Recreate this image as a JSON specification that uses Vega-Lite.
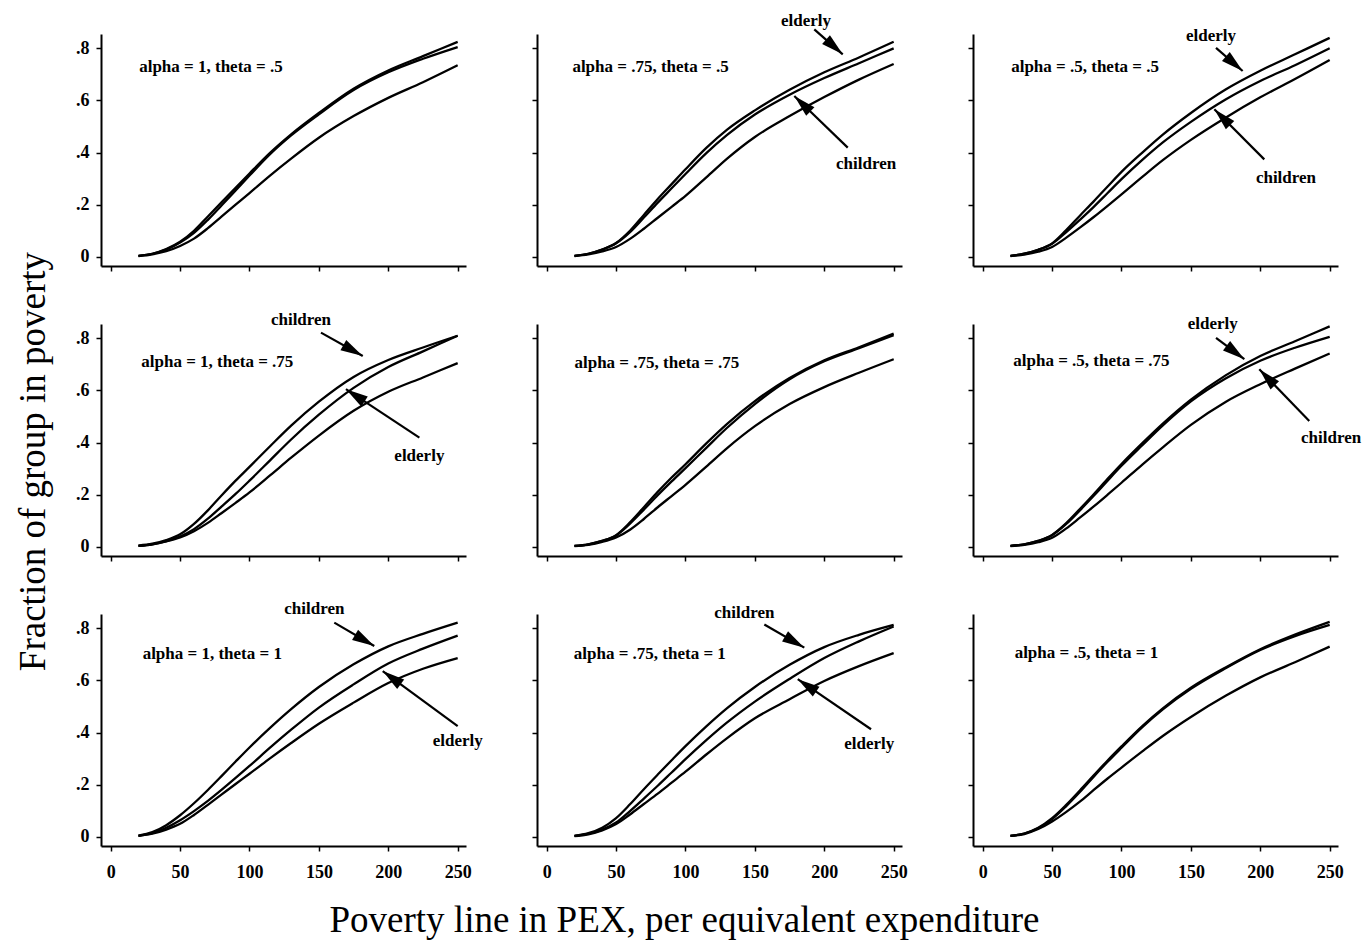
{
"$schema": "https://vega.github.io/schema/vega-lite/v6.json",
"background": "white",
"padding": {"left": 13, "top": 11, "right": 5, "bottom": 5},
"config": {
  "view": {"stroke": null},
  "axis": {"domainColor": "black", "domainWidth": 2, "tickColor": "black", "tickWidth": 1.5, "tickSize": 5, "labelFont": "Liberation Serif", "labelFontWeight": "bold", "labelFontSize": 18, "labelColor": "black", "grid": false, "titleFont": "Liberation Serif", "titleFontWeight": "normal", "titleFontSize": 37, "titleColor": "black", "labelFlush": false},
  "axisX": {"labelPadding": 12},
  "axisY": {"labelPadding": 7}
},
"datasets": {
"curves": [
{"panel":"r1c1","group":"elderly","x":20,"y":0.004},{"panel":"r1c1","group":"elderly","x":30,"y":0.012},{"panel":"r1c1","group":"elderly","x":40,"y":0.03},{"panel":"r1c1","group":"elderly","x":50,"y":0.058},{"panel":"r1c1","group":"elderly","x":60,"y":0.1},{"panel":"r1c1","group":"elderly","x":70,"y":0.155},{"panel":"r1c1","group":"elderly","x":80,"y":0.21},{"panel":"r1c1","group":"elderly","x":90,"y":0.265},{"panel":"r1c1","group":"elderly","x":100,"y":0.32},{"panel":"r1c1","group":"elderly","x":115,"y":0.4},{"panel":"r1c1","group":"elderly","x":130,"y":0.47},{"panel":"r1c1","group":"elderly","x":150,"y":0.552},{"panel":"r1c1","group":"elderly","x":175,"y":0.645},{"panel":"r1c1","group":"elderly","x":200,"y":0.715},{"panel":"r1c1","group":"elderly","x":225,"y":0.77},{"panel":"r1c1","group":"elderly","x":250,"y":0.825},
{"panel":"r1c1","group":"children","x":20,"y":0.004},{"panel":"r1c1","group":"children","x":30,"y":0.012},{"panel":"r1c1","group":"children","x":40,"y":0.028},{"panel":"r1c1","group":"children","x":50,"y":0.055},{"panel":"r1c1","group":"children","x":60,"y":0.092},{"panel":"r1c1","group":"children","x":70,"y":0.142},{"panel":"r1c1","group":"children","x":80,"y":0.198},{"panel":"r1c1","group":"children","x":90,"y":0.255},{"panel":"r1c1","group":"children","x":100,"y":0.312},{"panel":"r1c1","group":"children","x":115,"y":0.395},{"panel":"r1c1","group":"children","x":130,"y":0.466},{"panel":"r1c1","group":"children","x":150,"y":0.547},{"panel":"r1c1","group":"children","x":175,"y":0.64},{"panel":"r1c1","group":"children","x":200,"y":0.708},{"panel":"r1c1","group":"children","x":225,"y":0.76},{"panel":"r1c1","group":"children","x":250,"y":0.805},
{"panel":"r1c1","group":"all","x":20,"y":0.003},{"panel":"r1c1","group":"all","x":30,"y":0.01},{"panel":"r1c1","group":"all","x":40,"y":0.022},{"panel":"r1c1","group":"all","x":50,"y":0.042},{"panel":"r1c1","group":"all","x":60,"y":0.07},{"panel":"r1c1","group":"all","x":70,"y":0.11},{"panel":"r1c1","group":"all","x":80,"y":0.155},{"panel":"r1c1","group":"all","x":90,"y":0.2},{"panel":"r1c1","group":"all","x":100,"y":0.245},{"panel":"r1c1","group":"all","x":115,"y":0.313},{"panel":"r1c1","group":"all","x":130,"y":0.377},{"panel":"r1c1","group":"all","x":150,"y":0.457},{"panel":"r1c1","group":"all","x":175,"y":0.54},{"panel":"r1c1","group":"all","x":200,"y":0.61},{"panel":"r1c1","group":"all","x":225,"y":0.67},{"panel":"r1c1","group":"all","x":250,"y":0.735},
{"panel":"r1c2","group":"elderly","x":20,"y":0.004},{"panel":"r1c2","group":"elderly","x":30,"y":0.012},{"panel":"r1c2","group":"elderly","x":40,"y":0.028},{"panel":"r1c2","group":"elderly","x":50,"y":0.053},{"panel":"r1c2","group":"elderly","x":60,"y":0.1},{"panel":"r1c2","group":"elderly","x":70,"y":0.161},{"panel":"r1c2","group":"elderly","x":80,"y":0.222},{"panel":"r1c2","group":"elderly","x":90,"y":0.279},{"panel":"r1c2","group":"elderly","x":100,"y":0.336},{"panel":"r1c2","group":"elderly","x":115,"y":0.418},{"panel":"r1c2","group":"elderly","x":130,"y":0.488},{"panel":"r1c2","group":"elderly","x":150,"y":0.562},{"panel":"r1c2","group":"elderly","x":175,"y":0.641},{"panel":"r1c2","group":"elderly","x":200,"y":0.708},{"panel":"r1c2","group":"elderly","x":225,"y":0.765},{"panel":"r1c2","group":"elderly","x":250,"y":0.825},
{"panel":"r1c2","group":"children","x":20,"y":0.004},{"panel":"r1c2","group":"children","x":30,"y":0.012},{"panel":"r1c2","group":"children","x":40,"y":0.028},{"panel":"r1c2","group":"children","x":50,"y":0.052},{"panel":"r1c2","group":"children","x":60,"y":0.095},{"panel":"r1c2","group":"children","x":70,"y":0.151},{"panel":"r1c2","group":"children","x":80,"y":0.208},{"panel":"r1c2","group":"children","x":90,"y":0.263},{"panel":"r1c2","group":"children","x":100,"y":0.318},{"panel":"r1c2","group":"children","x":115,"y":0.398},{"panel":"r1c2","group":"children","x":130,"y":0.468},{"panel":"r1c2","group":"children","x":150,"y":0.546},{"panel":"r1c2","group":"children","x":175,"y":0.622},{"panel":"r1c2","group":"children","x":200,"y":0.686},{"panel":"r1c2","group":"children","x":225,"y":0.743},{"panel":"r1c2","group":"children","x":250,"y":0.8},
{"panel":"r1c2","group":"all","x":20,"y":0.003},{"panel":"r1c2","group":"all","x":30,"y":0.01},{"panel":"r1c2","group":"all","x":40,"y":0.021},{"panel":"r1c2","group":"all","x":50,"y":0.038},{"panel":"r1c2","group":"all","x":60,"y":0.069},{"panel":"r1c2","group":"all","x":70,"y":0.108},{"panel":"r1c2","group":"all","x":80,"y":0.15},{"panel":"r1c2","group":"all","x":90,"y":0.192},{"panel":"r1c2","group":"all","x":100,"y":0.234},{"panel":"r1c2","group":"all","x":115,"y":0.305},{"panel":"r1c2","group":"all","x":130,"y":0.377},{"panel":"r1c2","group":"all","x":150,"y":0.46},{"panel":"r1c2","group":"all","x":175,"y":0.54},{"panel":"r1c2","group":"all","x":200,"y":0.613},{"panel":"r1c2","group":"all","x":225,"y":0.68},{"panel":"r1c2","group":"all","x":250,"y":0.74},
{"panel":"r1c3","group":"elderly","x":20,"y":0.004},{"panel":"r1c3","group":"elderly","x":30,"y":0.012},{"panel":"r1c3","group":"elderly","x":40,"y":0.027},{"panel":"r1c3","group":"elderly","x":50,"y":0.052},{"panel":"r1c3","group":"elderly","x":60,"y":0.102},{"panel":"r1c3","group":"elderly","x":70,"y":0.158},{"panel":"r1c3","group":"elderly","x":80,"y":0.213},{"panel":"r1c3","group":"elderly","x":90,"y":0.27},{"panel":"r1c3","group":"elderly","x":100,"y":0.326},{"panel":"r1c3","group":"elderly","x":115,"y":0.4},{"panel":"r1c3","group":"elderly","x":130,"y":0.47},{"panel":"r1c3","group":"elderly","x":150,"y":0.552},{"panel":"r1c3","group":"elderly","x":175,"y":0.642},{"panel":"r1c3","group":"elderly","x":200,"y":0.714},{"panel":"r1c3","group":"elderly","x":225,"y":0.777},{"panel":"r1c3","group":"elderly","x":250,"y":0.84},
{"panel":"r1c3","group":"children","x":20,"y":0.004},{"panel":"r1c3","group":"children","x":30,"y":0.012},{"panel":"r1c3","group":"children","x":40,"y":0.027},{"panel":"r1c3","group":"children","x":50,"y":0.05},{"panel":"r1c3","group":"children","x":60,"y":0.094},{"panel":"r1c3","group":"children","x":70,"y":0.142},{"panel":"r1c3","group":"children","x":80,"y":0.192},{"panel":"r1c3","group":"children","x":90,"y":0.245},{"panel":"r1c3","group":"children","x":100,"y":0.298},{"panel":"r1c3","group":"children","x":115,"y":0.372},{"panel":"r1c3","group":"children","x":130,"y":0.44},{"panel":"r1c3","group":"children","x":150,"y":0.518},{"panel":"r1c3","group":"children","x":175,"y":0.604},{"panel":"r1c3","group":"children","x":200,"y":0.675},{"panel":"r1c3","group":"children","x":225,"y":0.735},{"panel":"r1c3","group":"children","x":250,"y":0.8},
{"panel":"r1c3","group":"all","x":20,"y":0.003},{"panel":"r1c3","group":"all","x":30,"y":0.009},{"panel":"r1c3","group":"all","x":40,"y":0.02},{"panel":"r1c3","group":"all","x":50,"y":0.038},{"panel":"r1c3","group":"all","x":60,"y":0.073},{"panel":"r1c3","group":"all","x":70,"y":0.112},{"panel":"r1c3","group":"all","x":80,"y":0.153},{"panel":"r1c3","group":"all","x":90,"y":0.196},{"panel":"r1c3","group":"all","x":100,"y":0.24},{"panel":"r1c3","group":"all","x":115,"y":0.307},{"panel":"r1c3","group":"all","x":130,"y":0.372},{"panel":"r1c3","group":"all","x":150,"y":0.449},{"panel":"r1c3","group":"all","x":175,"y":0.534},{"panel":"r1c3","group":"all","x":200,"y":0.612},{"panel":"r1c3","group":"all","x":225,"y":0.682},{"panel":"r1c3","group":"all","x":250,"y":0.755},
{"panel":"r2c1","group":"children","x":20,"y":0.005},{"panel":"r2c1","group":"children","x":30,"y":0.012},{"panel":"r2c1","group":"children","x":40,"y":0.026},{"panel":"r2c1","group":"children","x":50,"y":0.048},{"panel":"r2c1","group":"children","x":60,"y":0.088},{"panel":"r2c1","group":"children","x":70,"y":0.14},{"panel":"r2c1","group":"children","x":80,"y":0.198},{"panel":"r2c1","group":"children","x":90,"y":0.254},{"panel":"r2c1","group":"children","x":100,"y":0.307},{"panel":"r2c1","group":"children","x":115,"y":0.387},{"panel":"r2c1","group":"children","x":130,"y":0.465},{"panel":"r2c1","group":"children","x":150,"y":0.557},{"panel":"r2c1","group":"children","x":175,"y":0.652},{"panel":"r2c1","group":"children","x":200,"y":0.717},{"panel":"r2c1","group":"children","x":225,"y":0.765},{"panel":"r2c1","group":"children","x":250,"y":0.81},
{"panel":"r2c1","group":"elderly","x":20,"y":0.004},{"panel":"r2c1","group":"elderly","x":30,"y":0.01},{"panel":"r2c1","group":"elderly","x":40,"y":0.022},{"panel":"r2c1","group":"elderly","x":50,"y":0.04},{"panel":"r2c1","group":"elderly","x":60,"y":0.068},{"panel":"r2c1","group":"elderly","x":70,"y":0.108},{"panel":"r2c1","group":"elderly","x":80,"y":0.155},{"panel":"r2c1","group":"elderly","x":90,"y":0.203},{"panel":"r2c1","group":"elderly","x":100,"y":0.254},{"panel":"r2c1","group":"elderly","x":115,"y":0.333},{"panel":"r2c1","group":"elderly","x":130,"y":0.412},{"panel":"r2c1","group":"elderly","x":150,"y":0.507},{"panel":"r2c1","group":"elderly","x":175,"y":0.61},{"panel":"r2c1","group":"elderly","x":200,"y":0.69},{"panel":"r2c1","group":"elderly","x":225,"y":0.75},{"panel":"r2c1","group":"elderly","x":250,"y":0.81},
{"panel":"r2c1","group":"all","x":20,"y":0.004},{"panel":"r2c1","group":"all","x":30,"y":0.01},{"panel":"r2c1","group":"all","x":40,"y":0.021},{"panel":"r2c1","group":"all","x":50,"y":0.036},{"panel":"r2c1","group":"all","x":60,"y":0.06},{"panel":"r2c1","group":"all","x":70,"y":0.092},{"panel":"r2c1","group":"all","x":80,"y":0.13},{"panel":"r2c1","group":"all","x":90,"y":0.169},{"panel":"r2c1","group":"all","x":100,"y":0.209},{"panel":"r2c1","group":"all","x":115,"y":0.275},{"panel":"r2c1","group":"all","x":130,"y":0.342},{"panel":"r2c1","group":"all","x":150,"y":0.427},{"panel":"r2c1","group":"all","x":175,"y":0.522},{"panel":"r2c1","group":"all","x":200,"y":0.595},{"panel":"r2c1","group":"all","x":225,"y":0.65},{"panel":"r2c1","group":"all","x":250,"y":0.705},
{"panel":"r2c2","group":"children","x":20,"y":0.004},{"panel":"r2c2","group":"children","x":30,"y":0.01},{"panel":"r2c2","group":"children","x":40,"y":0.023},{"panel":"r2c2","group":"children","x":50,"y":0.045},{"panel":"r2c2","group":"children","x":60,"y":0.094},{"panel":"r2c2","group":"children","x":70,"y":0.152},{"panel":"r2c2","group":"children","x":80,"y":0.211},{"panel":"r2c2","group":"children","x":90,"y":0.266},{"panel":"r2c2","group":"children","x":100,"y":0.317},{"panel":"r2c2","group":"children","x":115,"y":0.397},{"panel":"r2c2","group":"children","x":130,"y":0.472},{"panel":"r2c2","group":"children","x":150,"y":0.559},{"panel":"r2c2","group":"children","x":175,"y":0.648},{"panel":"r2c2","group":"children","x":200,"y":0.716},{"panel":"r2c2","group":"children","x":225,"y":0.766},{"panel":"r2c2","group":"children","x":250,"y":0.818},
{"panel":"r2c2","group":"elderly","x":20,"y":0.004},{"panel":"r2c2","group":"elderly","x":30,"y":0.01},{"panel":"r2c2","group":"elderly","x":40,"y":0.023},{"panel":"r2c2","group":"elderly","x":50,"y":0.044},{"panel":"r2c2","group":"elderly","x":60,"y":0.089},{"panel":"r2c2","group":"elderly","x":70,"y":0.143},{"panel":"r2c2","group":"elderly","x":80,"y":0.198},{"panel":"r2c2","group":"elderly","x":90,"y":0.251},{"panel":"r2c2","group":"elderly","x":100,"y":0.302},{"panel":"r2c2","group":"elderly","x":115,"y":0.38},{"panel":"r2c2","group":"elderly","x":130,"y":0.457},{"panel":"r2c2","group":"elderly","x":150,"y":0.548},{"panel":"r2c2","group":"elderly","x":175,"y":0.643},{"panel":"r2c2","group":"elderly","x":200,"y":0.712},{"panel":"r2c2","group":"elderly","x":225,"y":0.762},{"panel":"r2c2","group":"elderly","x":250,"y":0.812},
{"panel":"r2c2","group":"all","x":20,"y":0.003},{"panel":"r2c2","group":"all","x":30,"y":0.008},{"panel":"r2c2","group":"all","x":40,"y":0.019},{"panel":"r2c2","group":"all","x":50,"y":0.036},{"panel":"r2c2","group":"all","x":60,"y":0.066},{"panel":"r2c2","group":"all","x":70,"y":0.107},{"panel":"r2c2","group":"all","x":80,"y":0.152},{"panel":"r2c2","group":"all","x":90,"y":0.195},{"panel":"r2c2","group":"all","x":100,"y":0.238},{"panel":"r2c2","group":"all","x":115,"y":0.308},{"panel":"r2c2","group":"all","x":130,"y":0.379},{"panel":"r2c2","group":"all","x":150,"y":0.463},{"panel":"r2c2","group":"all","x":175,"y":0.548},{"panel":"r2c2","group":"all","x":200,"y":0.613},{"panel":"r2c2","group":"all","x":225,"y":0.668},{"panel":"r2c2","group":"all","x":250,"y":0.72},
{"panel":"r2c3","group":"elderly","x":20,"y":0.004},{"panel":"r2c3","group":"elderly","x":30,"y":0.01},{"panel":"r2c3","group":"elderly","x":40,"y":0.023},{"panel":"r2c3","group":"elderly","x":50,"y":0.046},{"panel":"r2c3","group":"elderly","x":60,"y":0.09},{"panel":"r2c3","group":"elderly","x":70,"y":0.145},{"panel":"r2c3","group":"elderly","x":80,"y":0.202},{"panel":"r2c3","group":"elderly","x":90,"y":0.261},{"panel":"r2c3","group":"elderly","x":100,"y":0.318},{"panel":"r2c3","group":"elderly","x":115,"y":0.398},{"panel":"r2c3","group":"elderly","x":130,"y":0.474},{"panel":"r2c3","group":"elderly","x":150,"y":0.565},{"panel":"r2c3","group":"elderly","x":175,"y":0.658},{"panel":"r2c3","group":"elderly","x":200,"y":0.732},{"panel":"r2c3","group":"elderly","x":225,"y":0.789},{"panel":"r2c3","group":"elderly","x":250,"y":0.846},
{"panel":"r2c3","group":"children","x":20,"y":0.004},{"panel":"r2c3","group":"children","x":30,"y":0.01},{"panel":"r2c3","group":"children","x":40,"y":0.023},{"panel":"r2c3","group":"children","x":50,"y":0.045},{"panel":"r2c3","group":"children","x":60,"y":0.087},{"panel":"r2c3","group":"children","x":70,"y":0.14},{"panel":"r2c3","group":"children","x":80,"y":0.196},{"panel":"r2c3","group":"children","x":90,"y":0.254},{"panel":"r2c3","group":"children","x":100,"y":0.311},{"panel":"r2c3","group":"children","x":115,"y":0.39},{"panel":"r2c3","group":"children","x":130,"y":0.467},{"panel":"r2c3","group":"children","x":150,"y":0.558},{"panel":"r2c3","group":"children","x":175,"y":0.646},{"panel":"r2c3","group":"children","x":200,"y":0.714},{"panel":"r2c3","group":"children","x":225,"y":0.764},{"panel":"r2c3","group":"children","x":250,"y":0.806},
{"panel":"r2c3","group":"all","x":20,"y":0.003},{"panel":"r2c3","group":"all","x":30,"y":0.008},{"panel":"r2c3","group":"all","x":40,"y":0.018},{"panel":"r2c3","group":"all","x":50,"y":0.035},{"panel":"r2c3","group":"all","x":60,"y":0.07},{"panel":"r2c3","group":"all","x":70,"y":0.112},{"panel":"r2c3","group":"all","x":80,"y":0.155},{"panel":"r2c3","group":"all","x":90,"y":0.2},{"panel":"r2c3","group":"all","x":100,"y":0.246},{"panel":"r2c3","group":"all","x":115,"y":0.316},{"panel":"r2c3","group":"all","x":130,"y":0.383},{"panel":"r2c3","group":"all","x":150,"y":0.468},{"panel":"r2c3","group":"all","x":175,"y":0.556},{"panel":"r2c3","group":"all","x":200,"y":0.624},{"panel":"r2c3","group":"all","x":225,"y":0.684},{"panel":"r2c3","group":"all","x":250,"y":0.742},
{"panel":"r3c1","group":"children","x":20,"y":0.005},{"panel":"r3c1","group":"children","x":30,"y":0.018},{"panel":"r3c1","group":"children","x":40,"y":0.045},{"panel":"r3c1","group":"children","x":50,"y":0.083},{"panel":"r3c1","group":"children","x":60,"y":0.129},{"panel":"r3c1","group":"children","x":70,"y":0.18},{"panel":"r3c1","group":"children","x":80,"y":0.234},{"panel":"r3c1","group":"children","x":90,"y":0.289},{"panel":"r3c1","group":"children","x":100,"y":0.343},{"panel":"r3c1","group":"children","x":115,"y":0.419},{"panel":"r3c1","group":"children","x":130,"y":0.49},{"panel":"r3c1","group":"children","x":150,"y":0.575},{"panel":"r3c1","group":"children","x":175,"y":0.662},{"panel":"r3c1","group":"children","x":200,"y":0.731},{"panel":"r3c1","group":"children","x":225,"y":0.779},{"panel":"r3c1","group":"children","x":250,"y":0.822},
{"panel":"r3c1","group":"elderly","x":20,"y":0.004},{"panel":"r3c1","group":"elderly","x":30,"y":0.014},{"panel":"r3c1","group":"elderly","x":40,"y":0.035},{"panel":"r3c1","group":"elderly","x":50,"y":0.064},{"panel":"r3c1","group":"elderly","x":60,"y":0.099},{"panel":"r3c1","group":"elderly","x":70,"y":0.138},{"panel":"r3c1","group":"elderly","x":80,"y":0.181},{"panel":"r3c1","group":"elderly","x":90,"y":0.226},{"panel":"r3c1","group":"elderly","x":100,"y":0.272},{"panel":"r3c1","group":"elderly","x":115,"y":0.343},{"panel":"r3c1","group":"elderly","x":130,"y":0.411},{"panel":"r3c1","group":"elderly","x":150,"y":0.496},{"panel":"r3c1","group":"elderly","x":175,"y":0.585},{"panel":"r3c1","group":"elderly","x":200,"y":0.665},{"panel":"r3c1","group":"elderly","x":225,"y":0.722},{"panel":"r3c1","group":"elderly","x":250,"y":0.772},
{"panel":"r3c1","group":"all","x":20,"y":0.004},{"panel":"r3c1","group":"all","x":30,"y":0.012},{"panel":"r3c1","group":"all","x":40,"y":0.028},{"panel":"r3c1","group":"all","x":50,"y":0.05},{"panel":"r3c1","group":"all","x":60,"y":0.084},{"panel":"r3c1","group":"all","x":70,"y":0.123},{"panel":"r3c1","group":"all","x":80,"y":0.163},{"panel":"r3c1","group":"all","x":90,"y":0.203},{"panel":"r3c1","group":"all","x":100,"y":0.242},{"panel":"r3c1","group":"all","x":115,"y":0.302},{"panel":"r3c1","group":"all","x":130,"y":0.36},{"panel":"r3c1","group":"all","x":150,"y":0.434},{"panel":"r3c1","group":"all","x":175,"y":0.515},{"panel":"r3c1","group":"all","x":200,"y":0.59},{"panel":"r3c1","group":"all","x":225,"y":0.645},{"panel":"r3c1","group":"all","x":250,"y":0.686},
{"panel":"r3c2","group":"children","x":20,"y":0.004},{"panel":"r3c2","group":"children","x":30,"y":0.014},{"panel":"r3c2","group":"children","x":40,"y":0.035},{"panel":"r3c2","group":"children","x":50,"y":0.072},{"panel":"r3c2","group":"children","x":60,"y":0.125},{"panel":"r3c2","group":"children","x":70,"y":0.183},{"panel":"r3c2","group":"children","x":80,"y":0.239},{"panel":"r3c2","group":"children","x":90,"y":0.294},{"panel":"r3c2","group":"children","x":100,"y":0.348},{"panel":"r3c2","group":"children","x":115,"y":0.424},{"panel":"r3c2","group":"children","x":130,"y":0.494},{"panel":"r3c2","group":"children","x":150,"y":0.575},{"panel":"r3c2","group":"children","x":175,"y":0.66},{"panel":"r3c2","group":"children","x":200,"y":0.728},{"panel":"r3c2","group":"children","x":225,"y":0.775},{"panel":"r3c2","group":"children","x":250,"y":0.813},
{"panel":"r3c2","group":"elderly","x":20,"y":0.004},{"panel":"r3c2","group":"elderly","x":30,"y":0.012},{"panel":"r3c2","group":"elderly","x":40,"y":0.028},{"panel":"r3c2","group":"elderly","x":50,"y":0.055},{"panel":"r3c2","group":"elderly","x":60,"y":0.099},{"panel":"r3c2","group":"elderly","x":70,"y":0.147},{"panel":"r3c2","group":"elderly","x":80,"y":0.196},{"panel":"r3c2","group":"elderly","x":90,"y":0.247},{"panel":"r3c2","group":"elderly","x":100,"y":0.298},{"panel":"r3c2","group":"elderly","x":115,"y":0.371},{"panel":"r3c2","group":"elderly","x":130,"y":0.439},{"panel":"r3c2","group":"elderly","x":150,"y":0.519},{"panel":"r3c2","group":"elderly","x":175,"y":0.606},{"panel":"r3c2","group":"elderly","x":200,"y":0.686},{"panel":"r3c2","group":"elderly","x":225,"y":0.75},{"panel":"r3c2","group":"elderly","x":250,"y":0.807},
{"panel":"r3c2","group":"all","x":20,"y":0.003},{"panel":"r3c2","group":"all","x":30,"y":0.01},{"panel":"r3c2","group":"all","x":40,"y":0.025},{"panel":"r3c2","group":"all","x":50,"y":0.049},{"panel":"r3c2","group":"all","x":60,"y":0.086},{"panel":"r3c2","group":"all","x":70,"y":0.126},{"panel":"r3c2","group":"all","x":80,"y":0.166},{"panel":"r3c2","group":"all","x":90,"y":0.208},{"panel":"r3c2","group":"all","x":100,"y":0.25},{"panel":"r3c2","group":"all","x":115,"y":0.316},{"panel":"r3c2","group":"all","x":130,"y":0.379},{"panel":"r3c2","group":"all","x":150,"y":0.455},{"panel":"r3c2","group":"all","x":175,"y":0.528},{"panel":"r3c2","group":"all","x":200,"y":0.598},{"panel":"r3c2","group":"all","x":225,"y":0.655},{"panel":"r3c2","group":"all","x":250,"y":0.705},
{"panel":"r3c3","group":"children","x":20,"y":0.004},{"panel":"r3c3","group":"children","x":30,"y":0.013},{"panel":"r3c3","group":"children","x":40,"y":0.035},{"panel":"r3c3","group":"children","x":50,"y":0.072},{"panel":"r3c3","group":"children","x":60,"y":0.122},{"panel":"r3c3","group":"children","x":70,"y":0.178},{"panel":"r3c3","group":"children","x":80,"y":0.236},{"panel":"r3c3","group":"children","x":90,"y":0.293},{"panel":"r3c3","group":"children","x":100,"y":0.347},{"panel":"r3c3","group":"children","x":115,"y":0.425},{"panel":"r3c3","group":"children","x":130,"y":0.494},{"panel":"r3c3","group":"children","x":150,"y":0.572},{"panel":"r3c3","group":"children","x":175,"y":0.65},{"panel":"r3c3","group":"children","x":200,"y":0.72},{"panel":"r3c3","group":"children","x":225,"y":0.776},{"panel":"r3c3","group":"children","x":250,"y":0.825},
{"panel":"r3c3","group":"elderly","x":20,"y":0.004},{"panel":"r3c3","group":"elderly","x":30,"y":0.013},{"panel":"r3c3","group":"elderly","x":40,"y":0.033},{"panel":"r3c3","group":"elderly","x":50,"y":0.068},{"panel":"r3c3","group":"elderly","x":60,"y":0.117},{"panel":"r3c3","group":"elderly","x":70,"y":0.172},{"panel":"r3c3","group":"elderly","x":80,"y":0.231},{"panel":"r3c3","group":"elderly","x":90,"y":0.288},{"panel":"r3c3","group":"elderly","x":100,"y":0.342},{"panel":"r3c3","group":"elderly","x":115,"y":0.421},{"panel":"r3c3","group":"elderly","x":130,"y":0.49},{"panel":"r3c3","group":"elderly","x":150,"y":0.568},{"panel":"r3c3","group":"elderly","x":175,"y":0.647},{"panel":"r3c3","group":"elderly","x":200,"y":0.717},{"panel":"r3c3","group":"elderly","x":225,"y":0.77},{"panel":"r3c3","group":"elderly","x":250,"y":0.813},
{"panel":"r3c3","group":"all","x":20,"y":0.004},{"panel":"r3c3","group":"all","x":30,"y":0.011},{"panel":"r3c3","group":"all","x":40,"y":0.03},{"panel":"r3c3","group":"all","x":50,"y":0.059},{"panel":"r3c3","group":"all","x":60,"y":0.095},{"panel":"r3c3","group":"all","x":70,"y":0.135},{"panel":"r3c3","group":"all","x":80,"y":0.18},{"panel":"r3c3","group":"all","x":90,"y":0.224},{"panel":"r3c3","group":"all","x":100,"y":0.266},{"panel":"r3c3","group":"all","x":115,"y":0.328},{"panel":"r3c3","group":"all","x":130,"y":0.388},{"panel":"r3c3","group":"all","x":150,"y":0.46},{"panel":"r3c3","group":"all","x":175,"y":0.541},{"panel":"r3c3","group":"all","x":200,"y":0.612},{"panel":"r3c3","group":"all","x":225,"y":0.67},{"panel":"r3c3","group":"all","x":250,"y":0.73}
],
"params": [
{"panel":"r1c1","text":"alpha = 1, theta = .5","x":20.5,"y":0.73},
{"panel":"r1c2","text":"alpha = .75, theta = .5","x":18.5,"y":0.73},
{"panel":"r1c3","text":"alpha = .5, theta = .5","x":20.5,"y":0.73},
{"panel":"r2c1","text":"alpha = 1, theta = .75","x":22,"y":0.709},
{"panel":"r2c2","text":"alpha = .75, theta = .75","x":20,"y":0.705},
{"panel":"r2c3","text":"alpha = .5, theta = .75","x":22,"y":0.712},
{"panel":"r3c1","text":"alpha = 1, theta = 1","x":23,"y":0.702},
{"panel":"r3c2","text":"alpha = .75, theta = 1","x":19.5,"y":0.702},
{"panel":"r3c3","text":"alpha = .5, theta = 1","x":23,"y":0.705}
],
"notes": [
{"panel":"r1c2","text":"elderly","x":186.8,"y":0.905},
{"panel":"r1c2","text":"children","x":230.1,"y":0.355},
{"panel":"r1c3","text":"elderly","x":164.5,"y":0.847},
{"panel":"r1c3","text":"children","x":218.5,"y":0.304},
{"panel":"r2c1","text":"children","x":137.1,"y":0.869},
{"panel":"r2c1","text":"elderly","x":222.4,"y":0.349},
{"panel":"r2c3","text":"elderly","x":165.7,"y":0.854},
{"panel":"r2c3","text":"children","x":251,"y":0.419},
{"panel":"r3c1","text":"children","x":146.7,"y":0.873},
{"panel":"r3c1","text":"elderly","x":250,"y":0.368},
{"panel":"r3c2","text":"children","x":142.4,"y":0.86},
{"panel":"r3c2","text":"elderly","x":232.4,"y":0.355}
],
"arrows": [
{"panel":"r1c2","x":213.3,"y":0.777,"x2":192.8,"y2":0.873},
{"panel":"r1c2","x":178.4,"y":0.617,"x2":216.9,"y2":0.419},
{"panel":"r1c3","x":187.3,"y":0.713,"x2":168.1,"y2":0.802},
{"panel":"r1c3","x":166.9,"y":0.566,"x2":202.9,"y2":0.374},
{"panel":"r2c1","x":181.6,"y":0.732,"x2":151.5,"y2":0.822},
{"panel":"r2c1","x":169.5,"y":0.605,"x2":222.4,"y2":0.419},
{"panel":"r2c3","x":188.5,"y":0.72,"x2":168.1,"y2":0.802},
{"panel":"r2c3","x":199.3,"y":0.681,"x2":235.3,"y2":0.483},
{"panel":"r3c1","x":189.9,"y":0.732,"x2":161.1,"y2":0.822},
{"panel":"r3c1","x":196,"y":0.636,"x2":250,"y2":0.425},
{"panel":"r3c2","x":185.6,"y":0.726,"x2":156.8,"y2":0.815},
{"panel":"r3c2","x":180.9,"y":0.605,"x2":233.7,"y2":0.413}
]
},
"columns": 3,
"spacing": {"row": 58, "column": 71},
"bounds": "flush",
"concat": [
{"width":365,"height":232,
 "encoding":{"x":{"field":"x","type":"quantitative","scale":{"domain":[-7,256],"nice":false,"zero":false},"axis":{"values":[0,50,100,150,200,250],"labels":false,"title":null}},
 "y":{"field":"y","type":"quantitative","scale":{"domain":[-0.035,0.855],"nice":false,"zero":false},"axis":{"values":[0,0.2,0.4,0.6,0.8],"labelExpr":"datum.value === 0 ? '0' : replace(format(datum.value, '.1f'), '0.', '.')","title":null}}},
 "layer":[
  {"data":{"name":"curves"},"transform":[{"filter":"datum.panel === 'r1c1'"}],"mark":{"type":"line","color":"black","strokeWidth":2.3,"interpolate":"monotone"},"encoding":{"detail":{"field":"group","type":"nominal"}}},
  {"data":{"name":"params"},"transform":[{"filter":"datum.panel === 'r1c1'"}],"mark":{"type":"text","align":"left","baseline":"middle","font":"Liberation Serif","fontWeight":"bold","fontSize":17,"color":"black"},"encoding":{"text":{"field":"text","type":"nominal"}}}
 ]},
{"width":365,"height":232,
 "encoding":{"x":{"field":"x","type":"quantitative","scale":{"domain":[-7,256],"nice":false,"zero":false},"axis":{"values":[0,50,100,150,200,250],"labels":false,"title":null}},
 "y":{"field":"y","type":"quantitative","scale":{"domain":[-0.035,0.855],"nice":false,"zero":false},"axis":{"values":[0,0.2,0.4,0.6,0.8],"labels":false,"title":null}}},
 "layer":[
  {"data":{"name":"curves"},"transform":[{"filter":"datum.panel === 'r1c2'"}],"mark":{"type":"line","color":"black","strokeWidth":2.3,"interpolate":"monotone"},"encoding":{"detail":{"field":"group","type":"nominal"}}},
  {"data":{"name":"params"},"transform":[{"filter":"datum.panel === 'r1c2'"}],"mark":{"type":"text","align":"left","baseline":"middle","font":"Liberation Serif","fontWeight":"bold","fontSize":17,"color":"black"},"encoding":{"text":{"field":"text","type":"nominal"}}},
  {"data":{"name":"notes"},"transform":[{"filter":"datum.panel === 'r1c2'"}],"mark":{"type":"text","align":"center","baseline":"middle","font":"Liberation Serif","fontWeight":"bold","fontSize":17,"color":"black"},"encoding":{"text":{"field":"text","type":"nominal"}}},
  {"data":{"name":"arrows"},"transform":[{"filter":"datum.panel === 'r1c2'"}],"mark":{"type":"rule","color":"black","strokeWidth":2.2},"encoding":{"x2":{"field":"x2"},"y2":{"field":"y2"}}},
  {"data":{"name":"arrows"},"transform":[{"filter":"datum.panel === 'r1c2'"},{"calculate":"atan2((datum.x - datum.x2) * 1.3878, (datum.y - datum.y2) * 260.67) * 180 / PI","as":"angle"}],"mark":{"type":"point","shape":"M0,0L0.8,3L-0.8,3Z","filled":true,"size":220,"color":"black","opacity":1,"strokeWidth":0},"encoding":{"angle":{"field":"angle","type":"quantitative","scale":null}}}
 ]},
{"width":365,"height":232,
 "encoding":{"x":{"field":"x","type":"quantitative","scale":{"domain":[-7,256],"nice":false,"zero":false},"axis":{"values":[0,50,100,150,200,250],"labels":false,"title":null}},
 "y":{"field":"y","type":"quantitative","scale":{"domain":[-0.035,0.855],"nice":false,"zero":false},"axis":{"values":[0,0.2,0.4,0.6,0.8],"labels":false,"title":null}}},
 "layer":[
  {"data":{"name":"curves"},"transform":[{"filter":"datum.panel === 'r1c3'"}],"mark":{"type":"line","color":"black","strokeWidth":2.3,"interpolate":"monotone"},"encoding":{"detail":{"field":"group","type":"nominal"}}},
  {"data":{"name":"params"},"transform":[{"filter":"datum.panel === 'r1c3'"}],"mark":{"type":"text","align":"left","baseline":"middle","font":"Liberation Serif","fontWeight":"bold","fontSize":17,"color":"black"},"encoding":{"text":{"field":"text","type":"nominal"}}},
  {"data":{"name":"notes"},"transform":[{"filter":"datum.panel === 'r1c3'"}],"mark":{"type":"text","align":"center","baseline":"middle","font":"Liberation Serif","fontWeight":"bold","fontSize":17,"color":"black"},"encoding":{"text":{"field":"text","type":"nominal"}}},
  {"data":{"name":"arrows"},"transform":[{"filter":"datum.panel === 'r1c3'"}],"mark":{"type":"rule","color":"black","strokeWidth":2.2},"encoding":{"x2":{"field":"x2"},"y2":{"field":"y2"}}},
  {"data":{"name":"arrows"},"transform":[{"filter":"datum.panel === 'r1c3'"},{"calculate":"atan2((datum.x - datum.x2) * 1.3878, (datum.y - datum.y2) * 260.67) * 180 / PI","as":"angle"}],"mark":{"type":"point","shape":"M0,0L0.8,3L-0.8,3Z","filled":true,"size":220,"color":"black","opacity":1,"strokeWidth":0},"encoding":{"angle":{"field":"angle","type":"quantitative","scale":null}}}
 ]},
{"width":365,"height":232,
 "encoding":{"x":{"field":"x","type":"quantitative","scale":{"domain":[-7,256],"nice":false,"zero":false},"axis":{"values":[0,50,100,150,200,250],"labels":false,"title":null}},
 "y":{"field":"y","type":"quantitative","scale":{"domain":[-0.035,0.855],"nice":false,"zero":false},"axis":{"values":[0,0.2,0.4,0.6,0.8],"labelExpr":"datum.value === 0 ? '0' : replace(format(datum.value, '.1f'), '0.', '.')","title":"Fraction of group in poverty","titleX":-57,"titleY":137,"titleBaseline":"alphabetic"}}},
 "layer":[
  {"data":{"name":"curves"},"transform":[{"filter":"datum.panel === 'r2c1'"}],"mark":{"type":"line","color":"black","strokeWidth":2.3,"interpolate":"monotone"},"encoding":{"detail":{"field":"group","type":"nominal"}}},
  {"data":{"name":"params"},"transform":[{"filter":"datum.panel === 'r2c1'"}],"mark":{"type":"text","align":"left","baseline":"middle","font":"Liberation Serif","fontWeight":"bold","fontSize":17,"color":"black"},"encoding":{"text":{"field":"text","type":"nominal"}}},
  {"data":{"name":"notes"},"transform":[{"filter":"datum.panel === 'r2c1'"}],"mark":{"type":"text","align":"center","baseline":"middle","font":"Liberation Serif","fontWeight":"bold","fontSize":17,"color":"black"},"encoding":{"text":{"field":"text","type":"nominal"}}},
  {"data":{"name":"arrows"},"transform":[{"filter":"datum.panel === 'r2c1'"}],"mark":{"type":"rule","color":"black","strokeWidth":2.2},"encoding":{"x2":{"field":"x2"},"y2":{"field":"y2"}}},
  {"data":{"name":"arrows"},"transform":[{"filter":"datum.panel === 'r2c1'"},{"calculate":"atan2((datum.x - datum.x2) * 1.3878, (datum.y - datum.y2) * 260.67) * 180 / PI","as":"angle"}],"mark":{"type":"point","shape":"M0,0L0.8,3L-0.8,3Z","filled":true,"size":220,"color":"black","opacity":1,"strokeWidth":0},"encoding":{"angle":{"field":"angle","type":"quantitative","scale":null}}}
 ]},
{"width":365,"height":232,
 "encoding":{"x":{"field":"x","type":"quantitative","scale":{"domain":[-7,256],"nice":false,"zero":false},"axis":{"values":[0,50,100,150,200,250],"labels":false,"title":null}},
 "y":{"field":"y","type":"quantitative","scale":{"domain":[-0.035,0.855],"nice":false,"zero":false},"axis":{"values":[0,0.2,0.4,0.6,0.8],"labels":false,"title":null}}},
 "layer":[
  {"data":{"name":"curves"},"transform":[{"filter":"datum.panel === 'r2c2'"}],"mark":{"type":"line","color":"black","strokeWidth":2.3,"interpolate":"monotone"},"encoding":{"detail":{"field":"group","type":"nominal"}}},
  {"data":{"name":"params"},"transform":[{"filter":"datum.panel === 'r2c2'"}],"mark":{"type":"text","align":"left","baseline":"middle","font":"Liberation Serif","fontWeight":"bold","fontSize":17,"color":"black"},"encoding":{"text":{"field":"text","type":"nominal"}}}
 ]},
{"width":365,"height":232,
 "encoding":{"x":{"field":"x","type":"quantitative","scale":{"domain":[-7,256],"nice":false,"zero":false},"axis":{"values":[0,50,100,150,200,250],"labels":false,"title":null}},
 "y":{"field":"y","type":"quantitative","scale":{"domain":[-0.035,0.855],"nice":false,"zero":false},"axis":{"values":[0,0.2,0.4,0.6,0.8],"labels":false,"title":null}}},
 "layer":[
  {"data":{"name":"curves"},"transform":[{"filter":"datum.panel === 'r2c3'"}],"mark":{"type":"line","color":"black","strokeWidth":2.3,"interpolate":"monotone"},"encoding":{"detail":{"field":"group","type":"nominal"}}},
  {"data":{"name":"params"},"transform":[{"filter":"datum.panel === 'r2c3'"}],"mark":{"type":"text","align":"left","baseline":"middle","font":"Liberation Serif","fontWeight":"bold","fontSize":17,"color":"black"},"encoding":{"text":{"field":"text","type":"nominal"}}},
  {"data":{"name":"notes"},"transform":[{"filter":"datum.panel === 'r2c3'"}],"mark":{"type":"text","align":"center","baseline":"middle","font":"Liberation Serif","fontWeight":"bold","fontSize":17,"color":"black"},"encoding":{"text":{"field":"text","type":"nominal"}}},
  {"data":{"name":"arrows"},"transform":[{"filter":"datum.panel === 'r2c3'"}],"mark":{"type":"rule","color":"black","strokeWidth":2.2},"encoding":{"x2":{"field":"x2"},"y2":{"field":"y2"}}},
  {"data":{"name":"arrows"},"transform":[{"filter":"datum.panel === 'r2c3'"},{"calculate":"atan2((datum.x - datum.x2) * 1.3878, (datum.y - datum.y2) * 260.67) * 180 / PI","as":"angle"}],"mark":{"type":"point","shape":"M0,0L0.8,3L-0.8,3Z","filled":true,"size":220,"color":"black","opacity":1,"strokeWidth":0},"encoding":{"angle":{"field":"angle","type":"quantitative","scale":null}}}
 ]},
{"width":365,"height":232,
 "encoding":{"x":{"field":"x","type":"quantitative","scale":{"domain":[-7,256],"nice":false,"zero":false},"axis":{"values":[0,50,100,150,200,250],"title":null}},
 "y":{"field":"y","type":"quantitative","scale":{"domain":[-0.035,0.855],"nice":false,"zero":false},"axis":{"values":[0,0.2,0.4,0.6,0.8],"labelExpr":"datum.value === 0 ? '0' : replace(format(datum.value, '.1f'), '0.', '.')","title":null}}},
 "layer":[
  {"data":{"name":"curves"},"transform":[{"filter":"datum.panel === 'r3c1'"}],"mark":{"type":"line","color":"black","strokeWidth":2.3,"interpolate":"monotone"},"encoding":{"detail":{"field":"group","type":"nominal"}}},
  {"data":{"name":"params"},"transform":[{"filter":"datum.panel === 'r3c1'"}],"mark":{"type":"text","align":"left","baseline":"middle","font":"Liberation Serif","fontWeight":"bold","fontSize":17,"color":"black"},"encoding":{"text":{"field":"text","type":"nominal"}}},
  {"data":{"name":"notes"},"transform":[{"filter":"datum.panel === 'r3c1'"}],"mark":{"type":"text","align":"center","baseline":"middle","font":"Liberation Serif","fontWeight":"bold","fontSize":17,"color":"black"},"encoding":{"text":{"field":"text","type":"nominal"}}},
  {"data":{"name":"arrows"},"transform":[{"filter":"datum.panel === 'r3c1'"}],"mark":{"type":"rule","color":"black","strokeWidth":2.2},"encoding":{"x2":{"field":"x2"},"y2":{"field":"y2"}}},
  {"data":{"name":"arrows"},"transform":[{"filter":"datum.panel === 'r3c1'"},{"calculate":"atan2((datum.x - datum.x2) * 1.3878, (datum.y - datum.y2) * 260.67) * 180 / PI","as":"angle"}],"mark":{"type":"point","shape":"M0,0L0.8,3L-0.8,3Z","filled":true,"size":220,"color":"black","opacity":1,"strokeWidth":0},"encoding":{"angle":{"field":"angle","type":"quantitative","scale":null}}}
 ]},
{"width":365,"height":232,
 "encoding":{"x":{"field":"x","type":"quantitative","scale":{"domain":[-7,256],"nice":false,"zero":false},"axis":{"values":[0,50,100,150,200,250],"title":"Poverty line in PEX, per equivalent expenditure","titleX":147,"titleY":85,"titleBaseline":"alphabetic"}},
 "y":{"field":"y","type":"quantitative","scale":{"domain":[-0.035,0.855],"nice":false,"zero":false},"axis":{"values":[0,0.2,0.4,0.6,0.8],"labels":false,"title":null}}},
 "layer":[
  {"data":{"name":"curves"},"transform":[{"filter":"datum.panel === 'r3c2'"}],"mark":{"type":"line","color":"black","strokeWidth":2.3,"interpolate":"monotone"},"encoding":{"detail":{"field":"group","type":"nominal"}}},
  {"data":{"name":"params"},"transform":[{"filter":"datum.panel === 'r3c2'"}],"mark":{"type":"text","align":"left","baseline":"middle","font":"Liberation Serif","fontWeight":"bold","fontSize":17,"color":"black"},"encoding":{"text":{"field":"text","type":"nominal"}}},
  {"data":{"name":"notes"},"transform":[{"filter":"datum.panel === 'r3c2'"}],"mark":{"type":"text","align":"center","baseline":"middle","font":"Liberation Serif","fontWeight":"bold","fontSize":17,"color":"black"},"encoding":{"text":{"field":"text","type":"nominal"}}},
  {"data":{"name":"arrows"},"transform":[{"filter":"datum.panel === 'r3c2'"}],"mark":{"type":"rule","color":"black","strokeWidth":2.2},"encoding":{"x2":{"field":"x2"},"y2":{"field":"y2"}}},
  {"data":{"name":"arrows"},"transform":[{"filter":"datum.panel === 'r3c2'"},{"calculate":"atan2((datum.x - datum.x2) * 1.3878, (datum.y - datum.y2) * 260.67) * 180 / PI","as":"angle"}],"mark":{"type":"point","shape":"M0,0L0.8,3L-0.8,3Z","filled":true,"size":220,"color":"black","opacity":1,"strokeWidth":0},"encoding":{"angle":{"field":"angle","type":"quantitative","scale":null}}}
 ]},
{"width":365,"height":232,
 "encoding":{"x":{"field":"x","type":"quantitative","scale":{"domain":[-7,256],"nice":false,"zero":false},"axis":{"values":[0,50,100,150,200,250],"title":null}},
 "y":{"field":"y","type":"quantitative","scale":{"domain":[-0.035,0.855],"nice":false,"zero":false},"axis":{"values":[0,0.2,0.4,0.6,0.8],"labels":false,"title":null}}},
 "layer":[
  {"data":{"name":"curves"},"transform":[{"filter":"datum.panel === 'r3c3'"}],"mark":{"type":"line","color":"black","strokeWidth":2.3,"interpolate":"monotone"},"encoding":{"detail":{"field":"group","type":"nominal"}}},
  {"data":{"name":"params"},"transform":[{"filter":"datum.panel === 'r3c3'"}],"mark":{"type":"text","align":"left","baseline":"middle","font":"Liberation Serif","fontWeight":"bold","fontSize":17,"color":"black"},"encoding":{"text":{"field":"text","type":"nominal"}}}
 ]}
]
}
